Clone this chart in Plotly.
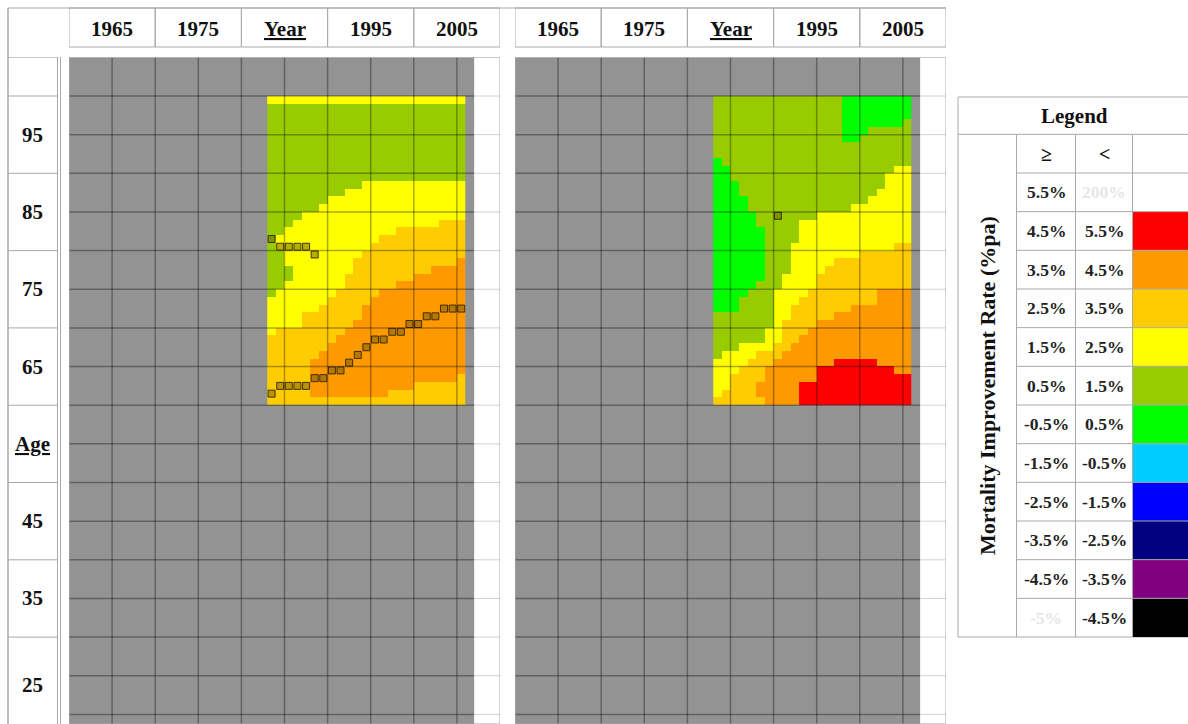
import plotly.graph_objects as go

W, H = 1188, 724

# ---------------------------------------------------------------- data
# Calendar years (columns) and ages (rows, oldest first)
YEARS = list(range(1983, 2006))
AGES = list(range(99, 59, -1))

# Band code -> representative mortality improvement rate (% p.a.)
RATE_OF = {"R": 5.0, "O": 4.0, "L": 3.0, "Y": 2.0, "G": 1.0, "N": 0.0}

# Left panel: one string per age (99 .. 60), one code per year (1983 .. 2005)
LEFT_GRID = [
    "Y" * 23,                                   # 99
    "G" * 23,                                   # 98
    "G" * 23,                                   # 97
    "G" * 23,                                   # 96
    "G" * 23,                                   # 95
    "G" * 23,                                   # 94
    "G" * 23,                                   # 93
    "G" * 23,                                   # 92
    "G" * 23,                                   # 91
    "G" * 23,                                   # 90
    "G" * 23,                                   # 89
    "G" * 11 + "Y" * 12,                        # 88
    "G" * 9 + "Y" * 14,                         # 87
    "G" * 7 + "Y" * 16,                         # 86
    "G" * 6 + "Y" * 17,                         # 85
    "G" * 4 + "Y" * 19,                         # 84
    "G" * 3 + "Y" * 17 + "L" * 3,               # 83
    "G" * 2 + "Y" * 13 + "L" * 8,               # 82
    "G" + "Y" * 12 + "L" * 10,                  # 81
    "G" + "Y" * 11 + "L" * 11,                  # 80
    "G" * 2 + "Y" * 9 + "L" * 12,               # 79
    "G" * 2 + "Y" * 8 + "L" * 12 + "O",         # 78
    "G" * 3 + "Y" * 7 + "L" * 9 + "O" * 4,      # 77
    "G" * 3 + "Y" * 6 + "L" * 8 + "O" * 6,      # 76
    "G" * 2 + "Y" * 7 + "L" * 6 + "O" * 8,      # 75
    "G" + "Y" * 7 + "L" * 5 + "O" * 10,         # 74
    "Y" * 7 + "L" * 5 + "O" * 11,               # 73
    "Y" * 6 + "L" * 5 + "O" * 12,               # 72
    "Y" * 4 + "L" * 7 + "O" * 12,               # 71
    "Y" * 4 + "L" * 6 + "O" * 13,               # 70
    "Y" + "L" * 8 + "O" * 14,                   # 69
    "L" * 8 + "O" * 15,                         # 68
    "L" * 7 + "O" * 16,                         # 67
    "L" * 6 + "O" * 17,                         # 66
    "L" * 5 + "O" * 18,                         # 65
    "L" * 5 + "O" * 18,                         # 64
    "L" * 5 + "O" * 17 + "L",                   # 63
    "L" * 5 + "O" * 12 + "L" * 6,               # 62
    "L" * 5 + "O" * 9 + "L" * 9,                # 61
    "L" * 23,                                   # 60
]

# Right panel, same layout
RIGHT_GRID = [
    "G" * 15 + "N" * 8,                                 # 99
    "G" * 15 + "N" * 8,                                 # 98
    "G" * 15 + "N" * 8,                                 # 97
    "G" * 15 + "N" * 7 + "G",                           # 96
    "G" * 15 + "N" * 3 + "G" * 5,                       # 95
    "G" * 15 + "N" * 2 + "G" * 6,                       # 94
    "G" * 23,                                           # 93
    "G" * 23,                                           # 92
    "N" + "G" * 22,                                     # 91
    "N" * 2 + "G" * 19 + "Y" * 2,                       # 90
    "N" * 2 + "G" * 18 + "Y" * 3,                       # 89
    "N" * 3 + "G" * 17 + "Y" * 3,                       # 88
    "N" * 3 + "G" * 16 + "Y" * 4,                       # 87
    "N" * 4 + "G" * 14 + "Y" * 5,                       # 86
    "N" * 4 + "G" * 12 + "Y" * 7,                       # 85
    "N" * 5 + "G" * 7 + "Y" * 11,                       # 84
    "N" * 5 + "G" * 5 + "Y" * 13,                       # 83
    "N" * 6 + "G" * 4 + "Y" * 13,                       # 82
    "N" * 6 + "G" * 4 + "Y" * 13,                       # 81
    "N" * 6 + "G" * 3 + "Y" * 12 + "L" * 2,             # 80
    "N" * 6 + "G" * 3 + "Y" * 8 + "L" * 6,              # 79
    "N" * 6 + "G" * 3 + "Y" * 5 + "L" * 9,              # 78
    "N" * 6 + "G" * 3 + "Y" * 4 + "L" * 10,             # 77
    "N" * 6 + "G" * 2 + "Y" * 4 + "L" * 11,             # 76
    "N" * 5 + "G" * 3 + "Y" * 4 + "L" * 11,             # 75
    "N" * 4 + "G" * 3 + "Y" * 4 + "L" * 8 + "O" * 4,    # 74
    "N" * 3 + "G" * 4 + "Y" * 3 + "L" * 9 + "O" * 4,    # 73
    "N" * 3 + "G" * 4 + "Y" * 2 + "L" * 7 + "O" * 7,    # 72
    "G" * 7 + "Y" * 2 + "L" * 5 + "O" * 9,              # 71
    "G" * 7 + "Y" + "L" * 4 + "O" * 11,                 # 70
    "G" * 6 + "Y" * 2 + "L" * 3 + "O" * 12,             # 69
    "G" * 6 + "Y" * 2 + "L" * 2 + "O" * 13,             # 68
    "G" * 3 + "Y" * 4 + "L" * 2 + "O" * 14,             # 67
    "G" + "Y" * 4 + "L" * 3 + "O" * 15,                 # 66
    "Y" * 4 + "L" * 3 + "O" * 7 + "R" * 5 + "O" * 4,    # 65
    "Y" * 3 + "L" * 3 + "O" * 6 + "R" * 9 + "O" * 2,    # 64
    "Y" * 2 + "L" * 4 + "O" * 6 + "R" * 11,             # 63
    "Y" * 2 + "L" * 3 + "O" * 5 + "R" * 13,             # 62
    "Y" + "L" * 4 + "O" * 5 + "R" * 13,                 # 61
    "L" * 6 + "O" * 4 + "R" * 13,                       # 60
]

# Highlighted cells (year, age)
LEFT_MARK_YEARS = [1983, 1984, 1985, 1986, 1987, 1988,
                   1983, 1984, 1985, 1986, 1987, 1988, 1989, 1990, 1991, 1992,
                   1993, 1994, 1995, 1996, 1997, 1998, 1999, 2000, 2001, 2002,
                   2003, 2004, 2005]
LEFT_MARK_AGES = [81, 80, 80, 80, 80, 79,
                  61, 62, 62, 62, 62, 63, 63, 64, 64, 65,
                  66, 67, 68, 68, 69, 69, 70, 70, 71, 71,
                  72, 72, 72]
RIGHT_MARK_YEARS = [1990]
RIGHT_MARK_AGES = [84]

YEAR_HEADERS = ["1965", "1975", "Year", "1995", "2005"]
AGE_LABELS = ["", "95", "85", "75", "65", "Age", "45", "35", "25"]

# Legend bands (top to bottom)
BAND_LOW = ["5.5%", "4.5%", "3.5%", "2.5%", "1.5%", "0.5%",
            "-0.5%", "-1.5%", "-2.5%", "-3.5%", "-4.5%", "-5%"]
BAND_HIGH = ["200%", "5.5%", "4.5%", "3.5%", "2.5%", "1.5%",
             "0.5%", "-0.5%", "-1.5%", "-2.5%", "-3.5%", "-4.5%"]
BAND_COLORS = ["#FFFFFF", "#FF0000", "#FF9900", "#FFCC00", "#FFFF00", "#99CC00",
               "#00FF00", "#00CCFF", "#0000FF", "#000080", "#800080", "#000000"]

for row in LEFT_GRID + RIGHT_GRID:
    assert len(row) == len(YEARS)
assert len(LEFT_GRID) == len(AGES) and len(RIGHT_GRID) == len(AGES)

# ---------------------------------------------------------------- helpers
FONT = "Liberation Serif"
LINE = "#a9a9a9"
GRAY = "#939393"


def px(x):
    return x / W


def py(y):
    return 1 - y / H


def label(text, x, y, size, xref="paper", yref="paper", color="#111", angle=0):
    return dict(xref=xref, yref=yref, x=x, y=y, text=text, showarrow=False,
                xanchor="center", yanchor="middle", textangle=angle,
                font=dict(family=FONT, size=size, color=color, weight="bold"))


X_LO, X_HI = 1959.5, 2009.5      # year axis range of each panel
GRAY_END = 2006.5
Y_TOP, Y_BOT = 104.5, 18.26      # age axis range of each panel

# stepped colour scale: eleven 1%-wide bands from -5.5% to 5.5%
heat_colors = BAND_COLORS[1:][::-1]
n_b = len(heat_colors)
colorscale = []
for i, c in enumerate(heat_colors):
    colorscale.append([i / n_b, c])
    colorscale.append([(i + 1) / n_b, c])

fig = go.Figure()

panels = [
    dict(xa="x", ya="y", grid=LEFT_GRID, my=LEFT_MARK_YEARS, ma=LEFT_MARK_AGES),
    dict(xa="x2", ya="y2", grid=RIGHT_GRID, my=RIGHT_MARK_YEARS, ma=RIGHT_MARK_AGES),
]

shapes = []
annotations = []

for p in panels:
    xa, ya = p["xa"], p["ya"]
    z = [[RATE_OF[c] for c in row] for row in p["grid"]]
    fig.add_trace(go.Heatmap(
        x=YEARS, y=AGES, z=z, xaxis=xa, yaxis=ya,
        colorscale=colorscale, zmin=-5.5, zmax=5.5,
        showscale=False, hoverinfo="skip",
    ))
    fig.add_trace(go.Scatter(
        x=p["my"], y=p["ma"], xaxis=xa, yaxis=ya, mode="markers",
        marker=dict(symbol="square", size=7, color="rgba(95,80,0,0.45)",
                    line=dict(color="rgba(40,30,0,0.85)", width=1)),
        hoverinfo="skip", showlegend=False,
    ))

    # grey background of the panel
    shapes.append(dict(type="rect", xref=xa, yref=ya, x0=X_LO, x1=GRAY_END,
                       y0=Y_BOT, y1=Y_TOP, fillcolor=GRAY, line_width=0,
                       layer="below"))
    # 5-year grid lines
    for k in range(1, 10):
        gx = X_LO + 5 * k
        shapes.append(dict(type="line", xref=xa, yref=ya, x0=gx, x1=gx,
                           y0=Y_BOT, y1=Y_TOP,
                           line=dict(color="rgba(0,0,0,0.33)", width=1.5)))
    for k in range(17):
        gy = 99.5 - 5 * k
        shapes.append(dict(type="line", xref=xa, yref=ya, x0=X_LO, x1=GRAY_END,
                           y0=gy, y1=gy,
                           line=dict(color="rgba(0,0,0,0.33)", width=1.5)))
        shapes.append(dict(type="line", xref=xa, yref=ya, x0=GRAY_END, x1=X_HI,
                           y0=gy, y1=gy, line=dict(color="#d2d2d2", width=1)))
    # panel frame
    shapes.append(dict(type="rect", xref=xa, yref=ya, x0=X_LO, x1=X_HI,
                       y0=Y_BOT, y1=Y_TOP, line=dict(color=LINE, width=1),
                       fillcolor="rgba(0,0,0,0)"))
    # header row of decade cells
    for i, lab in enumerate(YEAR_HEADERS):
        c0 = X_LO + 10 * i
        shapes.append(dict(type="rect", xref=xa, yref="paper", x0=c0, x1=c0 + 10,
                           y0=py(47), y1=py(8), line=dict(color=LINE, width=1)))
        txt = "<u>%s</u>" % lab if lab == "Year" else lab
        annotations.append(label(txt, c0 + 5, py(29), 21, xref=xa))

# outer top rule and age column
shapes.append(dict(type="line", xref="paper", yref="paper", x0=px(8), x1=px(946),
                   y0=py(8), y1=py(8), line=dict(color=LINE, width=1)))
shapes.append(dict(type="line", xref="paper", yref="paper", x0=px(8), x1=px(8),
                   y0=py(8), y1=py(724), line=dict(color=LINE, width=1.5)))
for xv in (57.5, 60.5):
    shapes.append(dict(type="line", xref="paper", yref="paper", x0=px(xv), x1=px(xv),
                       y0=py(57), y1=py(724), line=dict(color=LINE, width=1)))

age_edges = [104.5, 99.5, 89.5, 79.5, 69.5, 59.5, 49.5, 39.5, 29.5, 17.0]
for i, lab in enumerate(AGE_LABELS):
    shapes.append(dict(type="line", xref="paper", yref="y", x0=px(8), x1=px(58),
                       y0=age_edges[i], y1=age_edges[i],
                       line=dict(color=LINE, width=1)))
    if lab:
        txt = "<u>%s</u>" % lab if lab == "Age" else lab
        annotations.append(label(txt, px(32), (age_edges[i] + age_edges[i + 1]) / 2,
                                 21, yref="y"))

# ---------------------------------------------------------------- legend table
LX0, LX1, LX2, LX3, LX4 = 958, 1016.5, 1075.5, 1132.5, 1200
LTOP, LHEAD, ROW_H = 97, 134.3, 38.67
n_rows = len(BAND_LOW) + 1
LBOT = LHEAD + n_rows * ROW_H

shapes.append(dict(type="rect", xref="paper", yref="paper", x0=px(LX0), x1=px(LX4),
                   y0=py(LBOT), y1=py(LTOP), line=dict(color=LINE, width=1)))
shapes.append(dict(type="line", xref="paper", yref="paper", x0=px(LX0), x1=px(LX4),
                   y0=py(LHEAD), y1=py(LHEAD), line=dict(color=LINE, width=1)))
annotations.append(label("Legend", px(1074), py((LTOP + LHEAD) / 2), 21))
annotations.append(label("Mortality Improvement Rate (%pa)", px((LX0 + LX1) / 2),
                         py((LHEAD + LBOT) / 2), 22, angle=-90))

# swatches first so the cell borders sit on top of them
for i, col in enumerate(BAND_COLORS):
    r0 = LHEAD + (i + 1) * ROW_H
    shapes.append(dict(type="rect", xref="paper", yref="paper", x0=px(LX3), x1=px(LX4),
                       y0=py(r0 + ROW_H), y1=py(r0), fillcolor=col, line_width=0))
for xv in (LX1, LX2, LX3):
    shapes.append(dict(type="line", xref="paper", yref="paper", x0=px(xv), x1=px(xv),
                       y0=py(LHEAD), y1=py(LBOT), line=dict(color=LINE, width=1)))
for k in range(1, n_rows):
    yv = LHEAD + k * ROW_H
    shapes.append(dict(type="line", xref="paper", yref="paper", x0=px(LX1), x1=px(LX4),
                       y0=py(yv), y1=py(yv), line=dict(color=LINE, width=1)))

annotations.append(label("≥", px((LX1 + LX2) / 2), py(LHEAD + ROW_H / 2), 20))
annotations.append(label("<", px((LX2 + LX3) / 2), py(LHEAD + ROW_H / 2), 20))
for i, (lo, hi) in enumerate(zip(BAND_LOW, BAND_HIGH)):
    yc = LHEAD + (i + 1.5) * ROW_H
    lo_col = "#e6e6e6" if lo == "-5%" else "#222"
    hi_col = "#e6e6e6" if hi == "200%" else "#222"
    annotations.append(label(lo, px((LX1 + LX2) / 2), py(yc), 17.5, color=lo_col))
    annotations.append(label(hi, px((LX2 + LX3) / 2), py(yc), 17.5, color=hi_col))

# ---------------------------------------------------------------- layout
axis_x = dict(range=[X_LO, X_HI], visible=False, showgrid=False, zeroline=False,
              fixedrange=True)
axis_y = dict(range=[Y_BOT, Y_TOP], visible=False, showgrid=False, zeroline=False,
              fixedrange=True, domain=[0, py(57.35)])

fig.update_layout(
    width=W, height=H,
    margin=dict(l=0, r=0, t=0, b=0),
    paper_bgcolor="white", plot_bgcolor="rgba(0,0,0,0)",
    showlegend=False,
    xaxis=dict(axis_x, domain=[px(69), px(500)], anchor="y"),
    yaxis=dict(axis_y, anchor="x"),
    xaxis2=dict(axis_x, domain=[px(515), px(946)], anchor="y2"),
    yaxis2=dict(axis_y, anchor="x2"),
    shapes=shapes,
    annotations=annotations,
)

fig.write_html("out.html")
